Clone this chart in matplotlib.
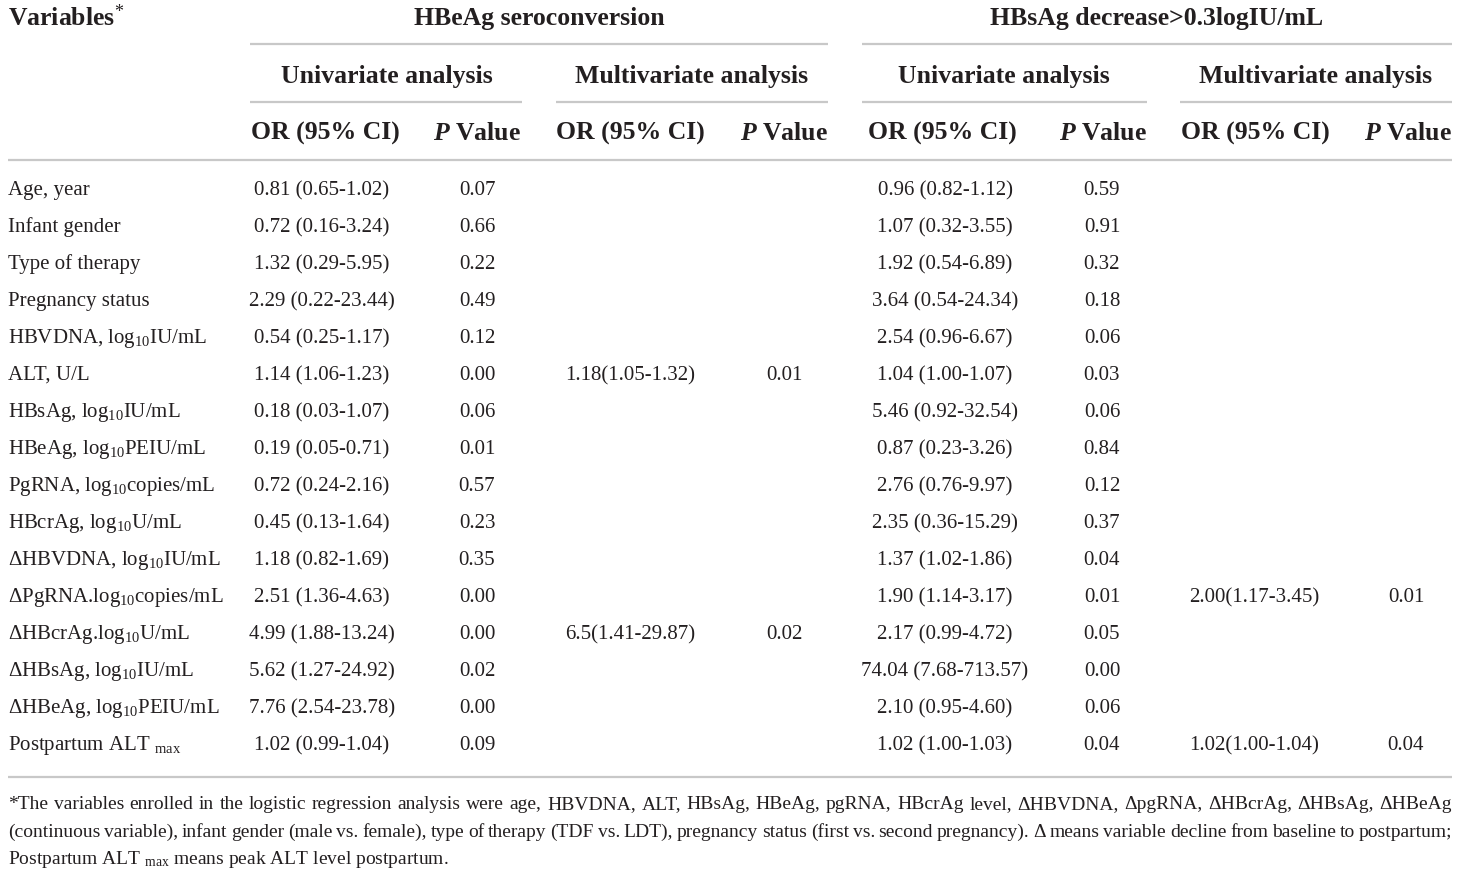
import matplotlib
matplotlib.use("Agg")
import matplotlib.pyplot as plt

plt.rcParams['font.family'] = ['Liberation Serif', 'DejaVu Serif']
plt.rcParams['mathtext.fontset'] = 'custom'
plt.rcParams['mathtext.rm'] = 'Liberation Serif'
plt.rcParams['mathtext.it'] = 'Liberation Serif:italic:bold'
plt.rcParams['mathtext.bf'] = 'Liberation Serif:bold'

variables = ["Age, year", "Infant gender", "Type of therapy", "Pregnancy status",
             r"HBVDNA, log$_{\mathrm{10}}$IU/mL", "ALT, U/L",
             r"HBsAg, log$_{\mathrm{10}}$IU/mL", r"HBeAg, log$_{\mathrm{10}}$PEIU/mL",
             r"PgRNA, log$_{\mathrm{10}}$copies/mL", r"HBcrAg, log$_{\mathrm{10}}$U/mL",
             r"ΔHBVDNA, log$_{\mathrm{10}}$IU/mL", r"ΔPgRNA.log$_{\mathrm{10}}$copies/mL",
             r"ΔHBcrAg.log$_{\mathrm{10}}$U/mL", r"ΔHBsAg, log$_{\mathrm{10}}$IU/mL",
             r"ΔHBeAg, log$_{\mathrm{10}}$PEIU/mL", r"Postpartum ALT $_{\mathrm{max}}$"]

sero_uni_or = ["0.81 (0.65-1.02)", "0.72 (0.16-3.24)", "1.32 (0.29-5.95)", "2.29 (0.22-23.44)",
               "0.54 (0.25-1.17)", "1.14 (1.06-1.23)", "0.18 (0.03-1.07)", "0.19 (0.05-0.71)",
               "0.72 (0.24-2.16)", "0.45 (0.13-1.64)", "1.18 (0.82-1.69)", "2.51 (1.36-4.63)",
               "4.99 (1.88-13.24)", "5.62 (1.27-24.92)", "7.76 (2.54-23.78)", "1.02 (0.99-1.04)"]
sero_uni_p = ["0.07", "0.66", "0.22", "0.49", "0.12", "0.00", "0.06", "0.01",
              "0.57", "0.23", "0.35", "0.00", "0.00", "0.02", "0.00", "0.09"]
sero_multi_or = ["", "", "", "", "", "1.18(1.05-1.32)", "", "", "", "", "", "",
                 "6.5(1.41-29.87)", "", "", ""]
sero_multi_p = ["", "", "", "", "", "0.01", "", "", "", "", "", "", "0.02", "", "", ""]
hbs_uni_or = ["0.96 (0.82-1.12)", "1.07 (0.32-3.55)", "1.92 (0.54-6.89)", "3.64 (0.54-24.34)",
              "2.54 (0.96-6.67)", "1.04 (1.00-1.07)", "5.46 (0.92-32.54)", "0.87 (0.23-3.26)",
              "2.76 (0.76-9.97)", "2.35 (0.36-15.29)", "1.37 (1.02-1.86)", "1.90 (1.14-3.17)",
              "2.17 (0.99-4.72)", "74.04 (7.68-713.57)", "2.10 (0.95-4.60)", "1.02 (1.00-1.03)"]
hbs_uni_p = ["0.59", "0.91", "0.32", "0.18", "0.06", "0.03", "0.06", "0.84",
             "0.12", "0.37", "0.04", "0.01", "0.05", "0.00", "0.06", "0.04"]
hbs_multi_or = ["", "", "", "", "", "", "", "", "", "", "", "2.00(1.17-3.45)",
                "", "", "", "1.02(1.00-1.04)"]
hbs_multi_p = ["", "", "", "", "", "", "", "", "", "", "", "0.01", "", "", "", "0.04"]

footnote = [
    "*The variables enrolled in the logistic regression analysis were age, HBVDNA, ALT, HBsAg, HBeAg, "
    "pgRNA, HBcrAg level, ΔHBVDNA, ΔpgRNA, ΔHBcrAg, ΔHBsAg, ΔHBeAg",
    "(continuous variable), infant gender (male vs. female), type of therapy (TDF vs. LDT), pregnancy "
    "status (first vs. second pregnancy). Δ means variable decline from baseline to postpartum;",
    r"Postpartum ALT $_{\mathrm{max}}$ means peak ALT level postpartum.",
]

W, H = 1460, 869
fig = plt.figure(figsize=(W / 100, H / 100), dpi=100)
ax = fig.add_axes([0, 0, 1, 1])
ax.set_xlim(0, W)
ax.set_ylim(H, 0)
ax.axis('off')

txt = '#231f20'
rule = '#c8c8c8'
body = 15
head = 18.5

def hline(x0, x1, y):
    ax.plot([x0, x1], [y, y], color=rule, lw=1.6, solid_capstyle='butt')

# header
ax.text(8, 18, r"Variables$^{\mathrm{*}}$", fontsize=head, fontweight='bold', color=txt,
        ha='left', va='center')
ax.text(539, 18, "HBeAg seroconversion", fontsize=head, fontweight='bold', color=txt,
        ha='center', va='center')
ax.text(1157, 18, "HBsAg decrease>0.3logIU/mL", fontsize=head, fontweight='bold', color=txt,
        ha='center', va='center')
hline(250, 828, 44)
hline(862, 1452, 44)

groups = [(387, 250, 522, "Univariate analysis"), (692, 556, 828, "Multivariate analysis"),
          (1004, 862, 1147, "Univariate analysis"), (1316, 1180, 1452, "Multivariate analysis")]
for cx, x0, x1, lab in groups:
    ax.text(cx, 76, lab, fontsize=head, fontweight='bold', color=txt, ha='center', va='center')
    hline(x0, x1, 102)

or_cols = [325, 630, 942, 1255]
p_cols = [477, 784, 1103, 1408]
for cx in or_cols:
    ax.text(cx, 133, "OR (95% CI)", fontsize=head, fontweight='bold', color=txt,
            ha='center', va='center')
for cx in p_cols:
    ax.text(cx, 133, r"$P$ Value", fontsize=head, fontweight='bold', color=txt,
            ha='center', va='center')
hline(8, 1452, 160)

# body rows (baseline aligned)
row_y0, row_dy = 195, 37
data_or = [sero_uni_or, sero_multi_or, hbs_uni_or, hbs_multi_or]
data_p = [sero_uni_p, sero_multi_p, hbs_uni_p, hbs_multi_p]
or_centers = [322, 630, 945, 1254]
p_centers = [477, 784, 1102, 1406]
for i, name in enumerate(variables):
    y = row_y0 + i * row_dy
    ax.text(8, y, name, fontsize=body, color=txt, ha='left', va='baseline')
    for col, cx in zip(data_or, or_centers):
        if col[i]:
            ax.text(cx, y, col[i], fontsize=body, color=txt, ha='center', va='baseline')
    for col, cx in zip(data_p, p_centers):
        if col[i]:
            ax.text(cx, y, col[i], fontsize=body, color=txt, ha='center', va='baseline')
hline(8, 1452, 777)

# footnote, first two lines justified
fig.canvas.draw()
renderer = fig.canvas.get_renderer()
foot_size = 14
foot_y = [809, 837, 864]
x_left, x_right = 8, 1452
for k, line in enumerate(foot_y):
    text = footnote[k]
    if k < 2:
        words = text.split(' ')
        arts = [ax.text(0, line, w, fontsize=foot_size, color=txt, ha='left', va='baseline')
                for w in words]
        widths = [a.get_window_extent(renderer).width for a in arts]
        gap = (x_right - x_left - sum(widths)) / (len(words) - 1)
        x = x_left
        for a, w in zip(arts, widths):
            a.set_x(x)
            x += w + gap
    else:
        ax.text(x_left, line, text, fontsize=foot_size, color=txt, ha='left', va='baseline')

fig.savefig("out.png", dpi=100)
